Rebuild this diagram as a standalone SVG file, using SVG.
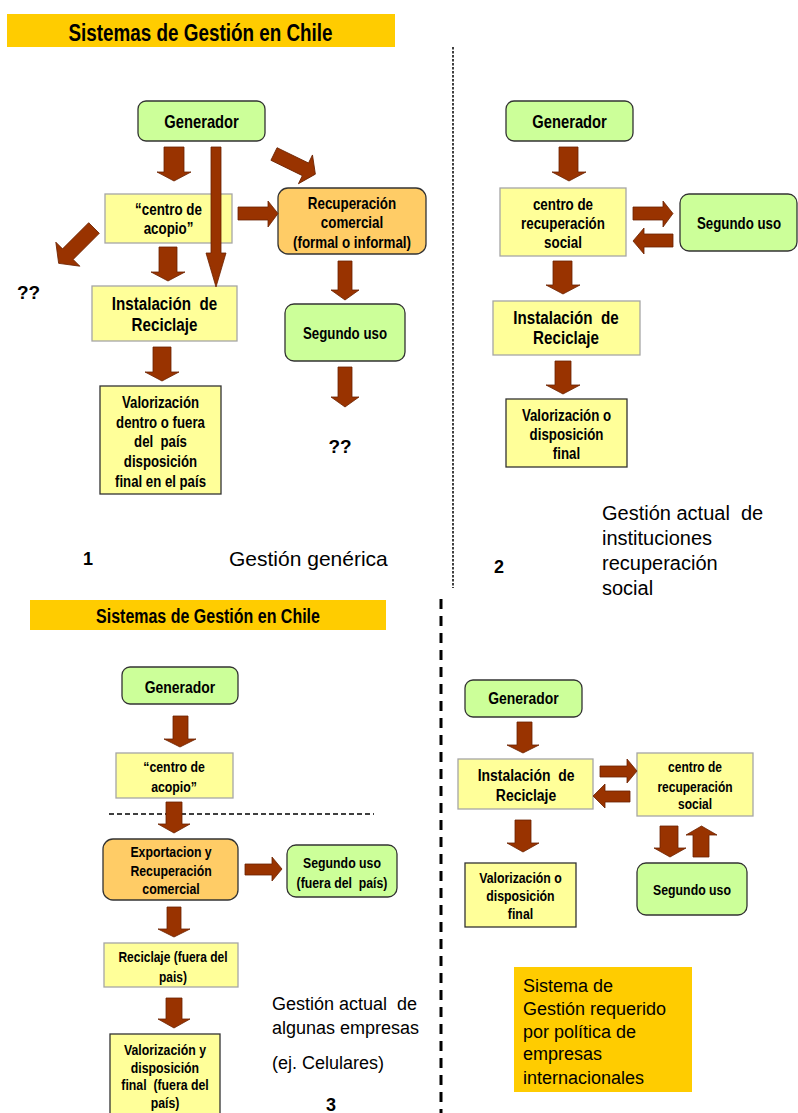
<svg xmlns="http://www.w3.org/2000/svg" width="798" height="1113" viewBox="0 0 798 1113">
<style>
.g{fill:#ccff99;stroke:#333;stroke-width:1.3}
.y{fill:#ffff99;stroke:#a6a6a6;stroke-width:1.3}
.yd{fill:#ffff99;stroke:#333;stroke-width:1.3}
.o{fill:#ffcc66;stroke:#333;stroke-width:1.3}
.hd{fill:#ffcc00}
.arr{fill:#993300;stroke:#6b2200;stroke-width:0.8}
.bt{font-family:"Liberation Sans",Arial,sans-serif;font-weight:bold;text-anchor:middle;fill:#000;transform-box:fill-box;transform-origin:center;transform:scaleX(0.82);white-space:pre}
.rt{font-family:"Liberation Sans",Arial,sans-serif;fill:#000;white-space:pre}
.nb{font-family:"Liberation Sans",Arial,sans-serif;font-weight:bold;fill:#000}
</style>
<rect width="798" height="1113" fill="#fff"/>

<g id="dividers">
<line x1="453" y1="47" x2="453" y2="588" stroke="#000" stroke-width="1.5" stroke-dasharray="2.5 1.5"/>
<line x1="441" y1="599" x2="441" y2="1113" stroke="#000" stroke-width="3" stroke-dasharray="10 7"/>
<line x1="109" y1="814" x2="374" y2="814" stroke="#000" stroke-width="1.3" stroke-dasharray="5 3"/>
</g>

<!-- Section 1 -->
<g id="title1"><rect class="hd" x="7" y="14" width="388" height="33"/><text class="bt" x="200.5" y="41" font-size="23">Sistemas de Gestión en Chile</text></g>
<g id="s1-generador"><rect class="g" x="138" y="101" width="127" height="40" rx="8"/><text class="bt" x="201.5" y="128.5" font-size="18">Generador</text></g>
<g id="s1-centro"><rect class="y" x="105" y="194" width="127" height="49"/><text class="bt" font-size="16.3"><tspan x="168.5" y="215.5">“centro de</tspan><tspan x="168.5" y="234.5">acopio”</tspan></text></g>
<g id="s1-recuperacion"><rect class="o" x="278" y="188" width="148" height="66" rx="10"/><text class="bt" font-size="16.3"><tspan x="352" y="208.7">Recuperación</tspan><tspan x="352" y="227.7">comercial</tspan><tspan x="352" y="247.7">(formal o informal)</tspan></text></g>
<g id="s1-instalacion"><rect class="y" x="92" y="286" width="145" height="55"/><text class="bt" font-size="18.5"><tspan x="164.5" y="310.5">Instalación  de</tspan><tspan x="164.5" y="331.5">Reciclaje</tspan></text></g>
<g id="s1-segundo"><rect class="g" x="285" y="304" width="120" height="57" rx="9"/><text class="bt" x="345" y="338.7" font-size="16.2">Segundo uso</text></g>
<g id="s1-valorizacion"><rect class="yd" x="100" y="386" width="121" height="108"/><text class="bt" font-size="16.1"><tspan x="160.5" y="407.7">Valorización</tspan><tspan x="160.5" y="427.7">dentro o fuera</tspan><tspan x="160.5" y="447.5">del  país</tspan><tspan x="160.5" y="466.7">disposición</tspan><tspan x="160.5" y="486.7">final en el país</tspan></text></g>
<g id="s1-labels">
<text class="nb" x="17" y="299" font-size="19">??</text>
<text class="nb" x="340" y="453" font-size="19" text-anchor="middle">??</text>
<text class="nb" x="83" y="565" font-size="18">1</text>
<text class="rt" x="229" y="566" font-size="21">Gestión genérica</text>
</g>

<!-- Section 2 -->
<g id="s2-generador"><rect class="g" x="506" y="101" width="127" height="40" rx="8"/><text class="bt" x="569.5" y="128.5" font-size="18">Generador</text></g>
<g id="s2-centro"><rect class="y" x="500" y="188" width="126" height="68"/><text class="bt" font-size="16.3"><tspan x="563" y="209.7">centro de</tspan><tspan x="563" y="228.7">recuperación</tspan><tspan x="563" y="247.7">social</tspan></text></g>
<g id="s2-segundo"><rect class="g" x="680" y="194" width="117" height="57" rx="9"/><text class="bt" x="739" y="228.7" font-size="16.2">Segundo uso</text></g>
<g id="s2-instalacion"><rect class="y" x="493" y="301" width="147" height="54"/><text class="bt" font-size="18.5"><tspan x="566" y="324.5">Instalación  de</tspan><tspan x="566" y="344.5">Reciclaje</tspan></text></g>
<g id="s2-valorizacion"><rect class="yd" x="506" y="399" width="121" height="68"/><text class="bt" font-size="16.2"><tspan x="566.5" y="420.7">Valorización o</tspan><tspan x="566.5" y="439.7">disposición</tspan><tspan x="566.5" y="458.7">final</tspan></text></g>
<g id="s2-labels">
<text class="nb" x="494" y="573" font-size="18">2</text>
<text class="rt" font-size="20"><tspan x="602" y="520">Gestión actual  de</tspan><tspan x="602" y="545">instituciones</tspan><tspan x="602" y="570">recuperación</tspan><tspan x="602" y="595">social</tspan></text>
</g>

<!-- Section 3 -->
<g id="title3"><rect class="hd" x="30" y="600" width="356" height="30"/><text class="bt" x="208" y="623.5" font-size="19.5">Sistemas de Gestión en Chile</text></g>
<g id="s3-generador"><rect class="g" x="122" y="667" width="116" height="37" rx="8"/><text class="bt" x="180" y="693" font-size="17">Generador</text></g>
<g id="s3-centro"><rect class="y" x="116" y="753" width="117" height="45"/><text class="bt" font-size="15"><tspan x="174" y="772.3">“centro de</tspan><tspan x="174" y="792.3">acopio”</tspan></text></g>
<g id="s3-exportacion"><rect class="o" x="103" y="839" width="135" height="61" rx="10"/><text class="bt" font-size="15"><tspan x="171" y="857.3">Exportacion y</tspan><tspan x="171" y="876.3">Recuperación</tspan><tspan x="171" y="894.3">comercial</tspan></text></g>
<g id="s3-segundo"><rect class="g" x="287" y="845" width="110" height="52" rx="9"/><text class="bt" font-size="15"><tspan x="342" y="868.3">Segundo uso</tspan><tspan x="342" y="888.3">(fuera del  país)</tspan></text></g>
<g id="s3-reciclaje"><rect class="y" x="104" y="943" width="134" height="44"/><text class="bt" font-size="14.6"><tspan x="173" y="962.3">Reciclaje (fuera del</tspan><tspan x="173" y="982.3">pais)</tspan></text></g>
<g id="s3-valorizacion"><rect class="yd" x="110" y="1034" width="110" height="90"/><text class="bt" font-size="15"><tspan x="165" y="1055.3">Valorización y</tspan><tspan x="165" y="1073.3">disposición</tspan><tspan x="165" y="1090.3">final  (fuera del</tspan><tspan x="165" y="1108.3">país)</tspan></text></g>
<g id="s3-labels">
<text class="rt" font-size="18"><tspan x="272" y="1009.5">Gestión actual  de</tspan><tspan x="272" y="1033.5">algunas empresas</tspan><tspan x="272" y="1068.5">(ej. Celulares)</tspan></text>
<text class="nb" x="331" y="1111" font-size="18" text-anchor="middle">3</text>
</g>

<!-- Section 4 -->
<g id="s4-generador"><rect class="g" x="465" y="680" width="117" height="37" rx="8"/><text class="bt" x="523.5" y="704.5" font-size="17">Generador</text></g>
<g id="s4-instalacion"><rect class="y" x="458" y="759" width="135" height="50"/><text class="bt" font-size="17"><tspan x="526" y="781">Instalación  de</tspan><tspan x="526" y="801">Reciclaje</tspan></text></g>
<g id="s4-centro"><rect class="y" x="637" y="753" width="116" height="63"/><text class="bt" font-size="14.6"><tspan x="695" y="772.2">centro de</tspan><tspan x="695" y="792.2">recuperación</tspan><tspan x="695" y="809.2">social</tspan></text></g>
<g id="s4-segundo"><rect class="g" x="637" y="863" width="110" height="52" rx="9"/><text class="bt" x="692" y="895.3" font-size="15">Segundo uso</text></g>
<g id="s4-valorizacion"><rect class="yd" x="465" y="863" width="111" height="64"/><text class="bt" font-size="15"><tspan x="520.5" y="883.3">Valorización o</tspan><tspan x="520.5" y="901.3">disposición</tspan><tspan x="520.5" y="919.3">final</tspan></text></g>
<g id="s4-nota"><rect class="hd" x="514" y="967" width="178" height="125"/><text class="rt" font-size="18"><tspan x="523" y="991.5">Sistema de</tspan><tspan x="523" y="1014.5">Gestión requerido</tspan><tspan x="523" y="1037.5">por política de</tspan><tspan x="523" y="1059.5">empresas</tspan><tspan x="523" y="1083.5">internacionales</tspan></text></g>

<g id="connectors">
<polygon class="arr" points="164,147 184,147 184,172 191,172 174,181 157,172 164,172"/>
<polygon class="arr" points="211,147 221,147 221,253 226,253 216,287 206,253 211,253"/>
<polygon class="arr" points="0,-7 35,-7 35,-16 46,0 35,16 35,7 0,7" transform="translate(274,154) rotate(26)"/>
<polygon class="arr" points="238,207 268,207 268,201 278,213.5 268,227 268,220 238,220"/>
<polygon class="arr" points="0,-7.5 37,-7.5 37,-17 50,0 37,17 37,7.5 0,7.5" transform="translate(94,228) rotate(135)"/>
<polygon class="arr" points="159,247 177,247 177,272 185,272 168,281 151,272 159,272"/>
<polygon class="arr" points="338,261 352,261 352,290 359,290 345,300 331,290 338,290"/>
<polygon class="arr" points="338,367 352,367 352,397 359,397 345,407 331,397 338,397"/>
<polygon class="arr" points="153,347 171,347 171,372 179,372 162,381 145,372 153,372"/>

<polygon class="arr" points="559,147 578,147 578,172 586,172 569,181 552,172 559,172"/>
<polygon class="arr" points="633,207 663,207 663,201 673,213.5 663,227 663,220 633,220"/>
<polygon class="arr" points="673,234 644,234 644,228 633,241 644,254 644,247 673,247"/>
<polygon class="arr" points="553,261 572,261 572,285 580,285 563,294 546,285 553,285"/>
<polygon class="arr" points="555,361 571,361 571,385 580,385 563,394 546,385 555,385"/>

<polygon class="arr" points="173,716 188,716 188,739 196,739 180,747 164,739 173,739"/>
<polygon class="arr" points="166,802 182,802 182,824 190,824 174,833 158,824 166,824"/>
<polygon class="arr" points="245,864 272,864 272,857 282,869 272,881 272,875 245,875"/>
<polygon class="arr" points="167,907 181,907 181,929 190,929 174,937 158,929 167,929"/>
<polygon class="arr" points="166,998 182,998 182,1019 190,1019 174,1028 158,1019 166,1019"/>

<polygon class="arr" points="517,722 532,722 532,745 539,745 523,753 507,745 517,745"/>
<polygon class="arr" points="600,766 627,766 627,759 637,771 627,783 627,777 600,777"/>
<polygon class="arr" points="630,791 605,791 605,784 593,796 605,808 605,802 630,802"/>
<polygon class="arr" points="660,826 678,826 678,848 686,848 670,857 654,848 660,848"/>
<polygon class="arr" points="693,857 709,857 709,835 717,835 701.5,826 686,835 693,835"/>
<polygon class="arr" points="515,820 531,820 531,843 539,843 523,852 507,843 515,843"/>
</g>
</svg>
